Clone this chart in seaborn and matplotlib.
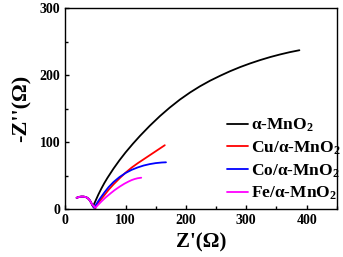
import matplotlib
matplotlib.use("Agg")
import matplotlib.pyplot as plt
import seaborn as sns
import pandas as pd
from matplotlib.ticker import MultipleLocator

# small high-frequency arc shared by all samples
arc_x = [19, 23, 27, 31, 35, 38, 41, 44]
arc_y = [17, 18.3, 18.8, 18.7, 17.8, 16, 13, 8]

mno2_x = [46, 50, 55, 60, 65, 70, 80, 90, 100, 112, 124, 140, 157, 173, 190, 207, 223,
          240, 257, 273, 290, 306, 323, 340, 356, 372, 388]
mno2_y = [4, 11.9, 21.9, 30.9, 39.2, 46.7, 60.5, 73.1, 84.7, 97.5, 109.5, 124.4, 139.0,
          151.5, 163.6, 174.3, 183.3, 191.8, 199.3, 205.9, 212.2, 217.5, 222.6, 227.2,
          231.0, 234.4, 237.3]
cu_x = [48, 52, 57, 65, 72, 80, 90, 100, 110, 120, 130, 140, 150, 158, 165]
cu_y = [2, 6, 12, 21, 29, 37, 46, 54.5, 62, 68.5, 74.5, 80.5, 86.5, 91.3, 95.5]
co_x = [48, 52, 57, 65, 72, 80, 90, 100, 110, 120, 130, 140, 150, 160, 167]
co_y = [2, 8, 15, 25, 33, 40.5, 48, 54, 58.7, 62.3, 65.2, 67.3, 68.8, 69.7, 70]
fe_x = [50, 54, 60, 67, 75, 82, 90, 98, 105, 110, 115, 120, 126]
fe_y = [2, 6, 11.5, 17.5, 23.5, 28.5, 33.5, 38, 41.3, 43.4, 45, 46.2, 47]

labels = ["α-MnO$_2$", "Cu/α-MnO$_2$", "Co/α-MnO$_2$", "Fe/α-MnO$_2$"]
colors = ["black", "red", "blue", "magenta"]

rows = []
for lab, xs, ys in zip(labels, [mno2_x, cu_x, co_x, fe_x], [mno2_y, cu_y, co_y, fe_y]):
    allx = arc_x + xs
    ally = arc_y + ys
    for a, b in zip(allx, ally):
        rows.append({"sample": lab, "x": a, "y": b})
df = pd.DataFrame(rows)

sns.set_style("ticks")
plt.rcParams["font.family"] = ["Liberation Serif", "DejaVu Serif"]
plt.rcParams["font.weight"] = "bold"
plt.rcParams["mathtext.fontset"] = "custom"
plt.rcParams["mathtext.rm"] = "Liberation Serif:bold"
plt.rcParams["mathtext.default"] = "rm"
plt.rcParams["text.color"] = "black"
plt.rcParams["axes.labelcolor"] = "black"
plt.rcParams["axes.edgecolor"] = "black"
plt.rcParams["xtick.color"] = "black"
plt.rcParams["ytick.color"] = "black"

fig = plt.figure(figsize=(3.43, 2.57), dpi=100)
ax = fig.add_axes([0.19, 0.186, 0.792, 0.782])
sns.lineplot(data=df, x="x", y="y", hue="sample", palette=colors, sort=False,
             estimator=None, units="sample", linewidth=1.3, ax=ax)

ax.set_xlim(0, 450)
ax.set_ylim(0, 300)
ax.xaxis.set_major_locator(MultipleLocator(100))
ax.xaxis.set_minor_locator(MultipleLocator(50))
ax.yaxis.set_major_locator(MultipleLocator(100))
ax.yaxis.set_minor_locator(MultipleLocator(50))
ax.tick_params(which="both", direction="in", labelsize=10, width=1)
ax.tick_params(which="major", length=3)
ax.tick_params(which="minor", length=2)
for s in ax.spines.values():
    s.set_linewidth(1)
ax.set_xlabel("Z'(Ω)", fontsize=15, fontweight="bold", labelpad=4)
ax.set_ylabel("-Z''(Ω)", fontsize=16, fontweight="bold", labelpad=6)

leg = ax.legend(loc="lower left", bbox_to_anchor=(0.596, 0.035), frameon=False,
                fontsize=12.5, handlelength=1.2, labelspacing=0.3, handletextpad=0.2,
                borderaxespad=0, borderpad=0)
for t in leg.get_texts():
    t.set_fontweight("bold")

fig.savefig("out.png", dpi=100)
